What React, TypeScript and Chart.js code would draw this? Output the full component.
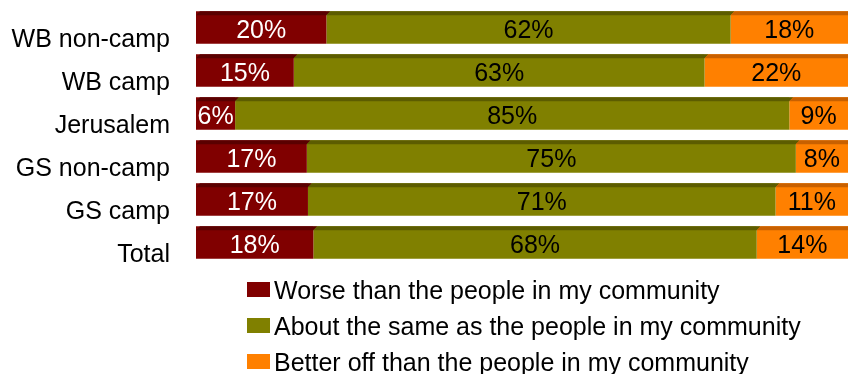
import React, { useEffect, useRef } from "react";
import { Chart, registerables } from "chart.js";

Chart.register(...registerables);

const categories = ["WB non-camp", "WB camp", "Jerusalem", "GS non-camp", "GS camp", "Total"];
const worse = [20, 15, 6, 17, 17, 18];
const same = [62, 63, 85, 75, 71, 68];
const better = [18, 22, 9, 8, 11, 14];
const seriesNames = [
  "Worse than the people in my community",
  "About the same as the people in my community",
  "Better off than the people in my community",
];
const colors = ["#800000", "#808000", "#FF8000"];
const topColors = ["#5a0000", "#5c5c00", "#c86000"];
const labelColors = ["#ffffff", "#000000", "#000000"];

const FONT = "'Liberation Sans', Arial, sans-serif";

const rawSeries = [worse, same, better];
const totals = categories.map((_, i) => worse[i] + same[i] + better[i]);

const barDecor = {
  id: "barDecor",
  afterDatasetsDraw(chart: any) {
    const ctx = chart.ctx;
    ctx.save();
    chart.data.datasets.forEach((ds: any, di: number) => {
      const meta = chart.getDatasetMeta(di);
      meta.data.forEach((bar: any, i: number) => {
        const p = bar.getProps(["x", "y", "base", "height"], true);
        const x0 = Math.min(p.base, p.x);
        const x1 = Math.max(p.base, p.x);
        const top = p.y - p.height / 2;
        const d = 4;
        ctx.fillStyle = topColors[di];
        ctx.beginPath();
        ctx.moveTo(x0, top + d);
        ctx.lineTo(x0 + d, top);
        ctx.lineTo(x1 + d, top);
        ctx.lineTo(x1, top + d);
        ctx.closePath();
        ctx.fill();
        const raw = rawSeries[di][i];
        ctx.fillStyle = labelColors[di];
        ctx.font = `25px ${FONT}`;
        ctx.textAlign = "center";
        ctx.textBaseline = "middle";
        ctx.fillText(raw + "%", (x0 + x1) / 2, top + d + (p.height - d) / 2 + 2);
      });
    });
    ctx.restore();
  },
};

const legendDraw = {
  id: "legendDraw",
  afterDraw(chart: any) {
    const ctx = chart.ctx;
    ctx.save();
    ctx.font = `25px ${FONT}`;
    ctx.textBaseline = "middle";
    ctx.textAlign = "left";
    seriesNames.forEach((name, i) => {
      const cy = 290 + i * 36;
      ctx.fillStyle = colors[i];
      ctx.fillRect(247, cy - 8, 23, 15);
      ctx.fillStyle = "#000000";
      ctx.fillText(name, 274, cy + 2);
    });
    ctx.restore();
  },
};

export default function App() {
  const ref = useRef<HTMLCanvasElement>(null);
  useEffect(() => {
    if (!ref.current) return;
    const datasets = rawSeries.map((vals, di) => ({
      label: seriesNames[di],
      data: vals.map((v, i) => (v / totals[i]) * 100),
      backgroundColor: colors[di],
      borderWidth: 0,
      barPercentage: 0.76,
      categoryPercentage: 1,
    }));
    const chart = new Chart(ref.current, {
      type: "bar",
      data: { labels: categories, datasets },
      options: {
        indexAxis: "y",
        animation: false,
        responsive: false,
        maintainAspectRatio: false,
        layout: { padding: { top: 6, bottom: 110, right: 0, left: 0 } },
        plugins: { legend: { display: false }, tooltip: { enabled: false } },
        scales: {
          x: {
            stacked: true,
            min: 0,
            max: 100,
            display: false,
          },
          y: {
            stacked: true,
            grid: { display: false, drawTicks: false },
            border: { display: false },
            ticks: {
              color: "#000000",
              font: { family: FONT, size: 25 },
              padding: 26,
              labelOffset: 13,
            },
            afterFit(scale: any) {
              scale.width = 196;
              scale.paddingTop = 0;
              scale.paddingBottom = 0;
            },
          },
        },
      },
      plugins: [barDecor, legendDraw],
    });
    return () => chart.destroy();
  }, []);
  return (
    <div style={{ position: "fixed", left: 0, top: 0, width: 848, height: 374, background: "#fff" }}>
      <canvas ref={ref} width={848} height={374} style={{ display: "block" }} />
    </div>
  );
}
